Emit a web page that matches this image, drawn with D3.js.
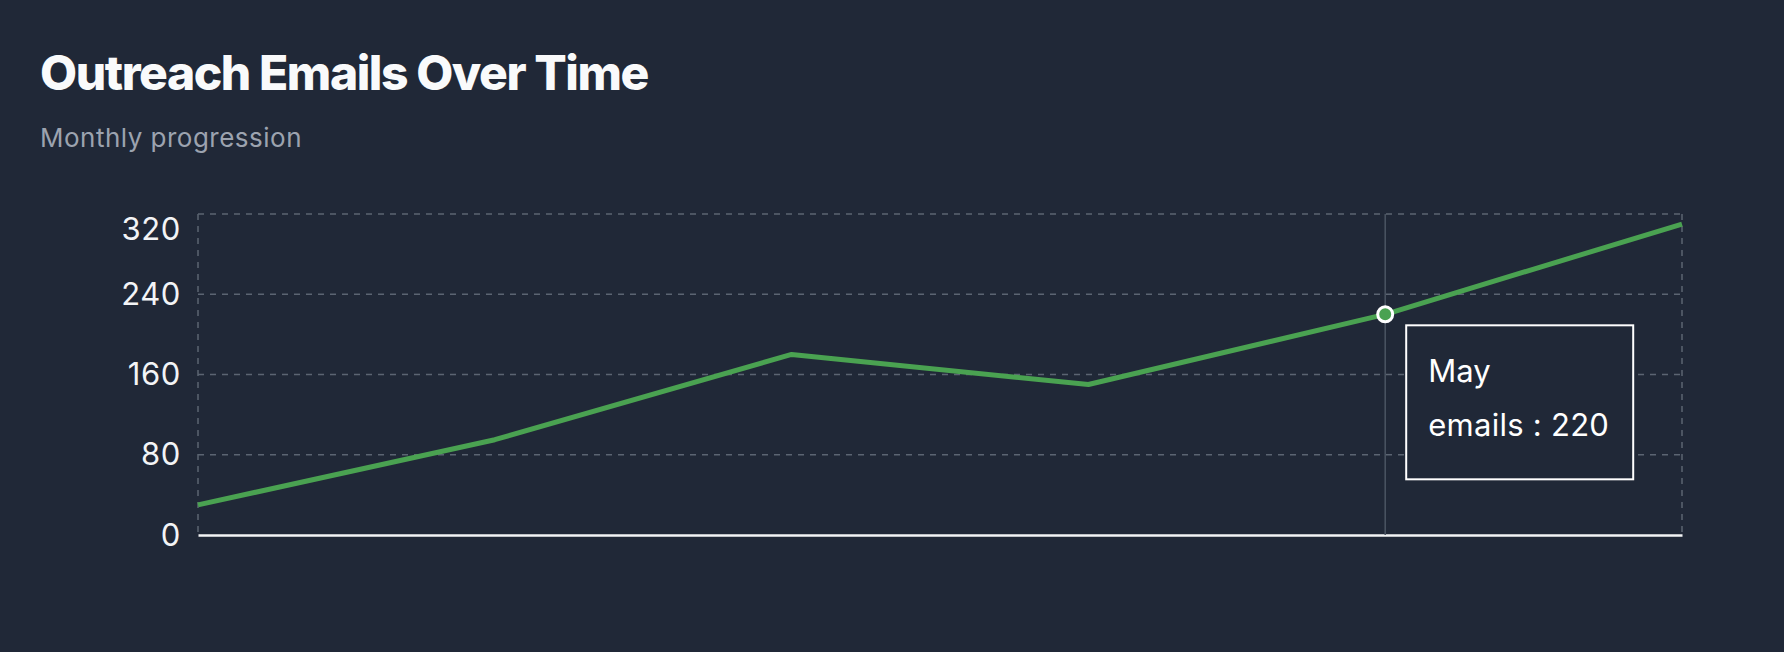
<!DOCTYPE html>
<html>
<head>
<meta charset="utf-8">
<script src="https://cdn.jsdelivr.net/npm/d3@7"></script>
<style>
  html, body { margin: 0; padding: 0; background: #202837; }
  svg { display: block; }
</style>
</head>
<body>
<svg id="chart" width="1784" height="652"></svg>
<script>
const months = ["Jan", "Feb", "Mar", "Apr", "May", "Jun"];
const emails = [30, 95, 180, 150, 220, 310];
const yTicks = [0, 80, 160, 240, 320];
const seriesName = "emails";
const activeIndex = 4;
const titleText = "Outreach Emails Over Time";
const subtitleText = "Monthly progression";

const W = 1784, H = 652;
const bg = "#202837";
const green = "#4aa251";
const gridColor = "#5b6472";
const margin = { left: 198, right: 102, top: 214, bottom: 117 };

const svg = d3.select("#chart");
svg.append("rect").attr("width", W).attr("height", H).attr("fill", bg);

// Title & subtitle
const title = svg.append("text")
  .attr("x", 40).attr("y", 90)
  .attr("font-family", "Inter, 'Noto Sans', sans-serif")
  .attr("font-weight", 800).attr("font-size", 48)
  .attr("fill", "#f9fafb")
  .text(titleText);
{
  const len = title.node().getComputedTextLength();
  const ls = (608 - len) / titleText.length;
  title.attr("letter-spacing", ls);
}
const sub = svg.append("text")
  .attr("x", 40).attr("y", 147)
  .attr("font-family", "Inter, 'Noto Sans', sans-serif")
  .attr("font-weight", 400).attr("font-size", 26)
  .attr("fill", "#9ca3af")
  .text(subtitleText);
{
  const len = sub.node().getComputedTextLength();
  const ls = (262 - len) / subtitleText.length;
  sub.attr("letter-spacing", ls);
}

const x = d3.scalePoint().domain(months).range([margin.left, W - margin.right]);
const y = d3.scaleLinear().domain([0, d3.max(yTicks)]).range([H - margin.bottom, margin.top]);

const g = svg.append("g");

// Horizontal grid lines
g.selectAll("line.hgrid").data(yTicks.filter(t => t !== 0)).join("line")
  .attr("class", "hgrid")
  .attr("x1", x.range()[0]).attr("x2", x.range()[1])
  .attr("y1", d => y(d)).attr("y2", d => y(d))
  .attr("stroke", gridColor).attr("stroke-width", 1.5)
  .attr("stroke-dasharray", "6 6");

// Vertical grid lines (edges)
g.selectAll("line.vgrid").data([months[0], months[months.length - 1]]).join("line")
  .attr("class", "vgrid")
  .attr("x1", d => x(d)).attr("x2", d => x(d))
  .attr("y1", y.range()[1]).attr("y2", y.range()[0])
  .attr("stroke", gridColor).attr("stroke-width", 1.5)
  .attr("stroke-dasharray", "6 6");

// Y axis labels
const yAxis = d3.axisLeft(y).tickValues(yTicks).tickSize(0).tickPadding(17);
const yg = svg.append("g").attr("transform", `translate(${margin.left},0)`).call(yAxis);
yg.select(".domain").remove();
yg.selectAll(".tick text")
  .attr("font-family", "Inter, 'Noto Sans', sans-serif")
  .attr("font-size", 31)
  .attr("letter-spacing", 0.6)
  .attr("fill", "#f3f4f6")
  .attr("dy", d => d === d3.max(yTicks) ? "0.82em" : "0.33em");

// X axis line
const xAxis = d3.axisBottom(x).tickSize(0).tickFormat("");
const xg = svg.append("g").attr("transform", `translate(0,${y(0)})`).call(xAxis);
xg.select(".domain").attr("stroke", "#f3f4f6").attr("stroke-width", 2.5);

// Cursor line
svg.append("line")
  .attr("x1", x(months[activeIndex])).attr("x2", x(months[activeIndex]))
  .attr("y1", y.range()[1]).attr("y2", y.range()[0])
  .attr("stroke", "#4b5563").attr("stroke-width", 1.5);

// Line
const line = d3.line().x((d, i) => x(months[i])).y(d => y(d));
svg.append("path").datum(emails)
  .attr("d", line)
  .attr("fill", "none")
  .attr("stroke", green)
  .attr("stroke-width", 5)
  .attr("stroke-linejoin", "round");

// Active dot
svg.append("circle")
  .attr("cx", x(months[activeIndex])).attr("cy", y(emails[activeIndex]))
  .attr("r", 7.5)
  .attr("fill", green)
  .attr("stroke", "#ffffff").attr("stroke-width", 3);

// Tooltip
const tx = x(months[activeIndex]) + 21, ty = y(emails[activeIndex]) + 11;
const tip = svg.append("g").attr("transform", `translate(${tx},${ty})`);
tip.append("rect")
  .attr("x", 0).attr("y", 0).attr("width", 227).attr("height", 154)
  .attr("fill", bg).attr("stroke", "#ffffff").attr("stroke-width", 2);
const t1 = tip.append("text")
  .attr("x", 22).attr("y", 57)
  .attr("font-family", "Inter, 'Noto Sans', sans-serif")
  .attr("font-size", 31).attr("fill", "#ffffff")
  .text(months[activeIndex]);
const t2 = tip.append("text")
  .attr("x", 22).attr("y", 111)
  .attr("font-family", "Inter, 'Noto Sans', sans-serif")
  .attr("font-size", 31).attr("fill", "#ffffff")
  .text(`${seriesName} : ${emails[activeIndex]}`);
{
  const len = t2.node().getComputedTextLength();
  const s = `${seriesName} : ${emails[activeIndex]}`;
  t2.attr("letter-spacing", (181 - len) / s.length);
}
</script>
</body>
</html>
